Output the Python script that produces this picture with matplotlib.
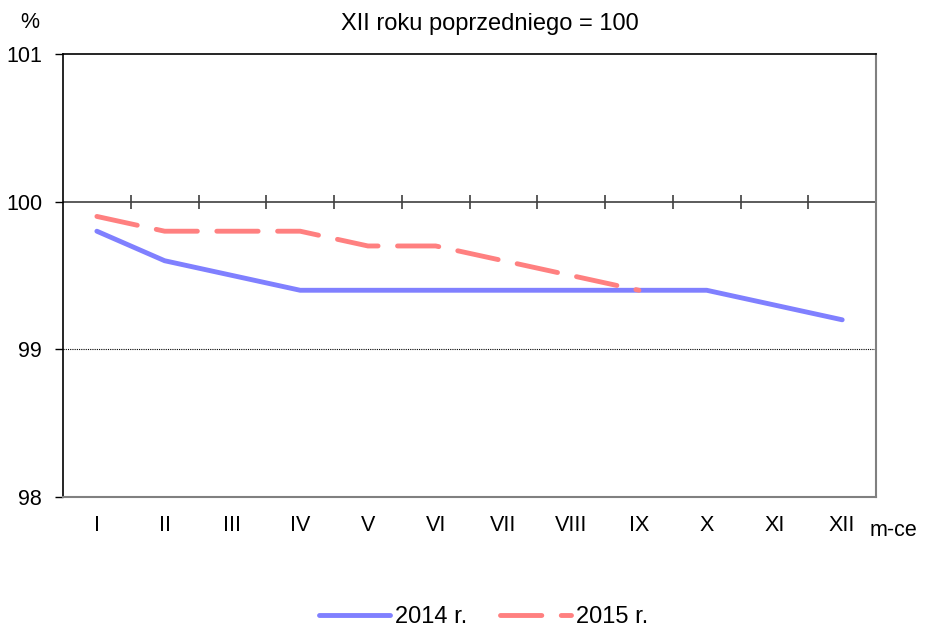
import numpy as np
import matplotlib.pyplot as plt

plt.rcParams['font.family'] = ['Liberation Sans', 'DejaVu Sans']

# ================= dane =================
months = ['I', 'II', 'III', 'IV', 'V', 'VI', 'VII', 'VIII', 'IX', 'X', 'XI', 'XII']
y2014 = [99.8, 99.6, 99.5, 99.4, 99.4, 99.4, 99.4, 99.4, 99.4, 99.4, 99.3, 99.2]
y2015 = [99.9, 99.8, 99.8, 99.8, 99.7, 99.7, 99.6, 99.5, 99.4]
labels = ['2014 r.', '2015 r.']

FS = 15.5   # etykiety osi
FS_BIG = 17  # tytuł, legenda

# ================= wykres =================
fig = plt.figure(figsize=(9.32, 6.28), dpi=100)
ax = fig.add_axes([0.0676, 0.2086, 0.8724, 0.7054])

x = np.arange(len(months))
ax.plot(x, y2014, color='#8080FF', lw=3.5, solid_capstyle='round',
        solid_joinstyle='round', label=labels[0])
ax.plot(x[:len(y2015)], y2015, color='#FF8080', lw=3.5, dashes=(8.5, 4),
        dash_capstyle='round', label=labels[1])

ax.set_xlim(-0.5, 11.5)
ax.set_ylim(98, 101)
ax.set_yticks([98, 99, 100, 101])
ax.set_yticklabels(['98', '99', '100', '101'], fontsize=FS)
ax.tick_params(axis='y', length=6, width=1, pad=9)

ax.set_xticks(x)
ax.set_xticklabels(months, fontsize=FS)
ax.tick_params(axis='x', length=0, pad=13)

# linie pomocnicze
ax.axhline(99, color='black', lw=0.8, ls=(0, (1, 1)), zorder=1)
ax.axhline(100, color='#404040', lw=1.2, zorder=1)

# znaczniki na linii 100
sec = ax.secondary_xaxis(2 / 3)
sec.set_xticks(np.arange(0.5, 11.5, 1))
sec.tick_params(axis='x', direction='inout', length=10, width=1.2,
                color='#404040', labelbottom=False, labeltop=False,
                top=True, bottom=False)
sec.spines['top'].set_visible(False)
sec.spines['bottom'].set_visible(False)

for s in ['left', 'top']:
    ax.spines[s].set_color('black')
    ax.spines[s].set_linewidth(1.2)
for s in ['right', 'bottom']:
    ax.spines[s].set_color('#808080')
    ax.spines[s].set_linewidth(1.5)

fig.text(30 / 932, 1 - 22 / 628, '%', fontsize=FS, ha='center', va='center')
fig.text(490 / 932, 1 - 24 / 628, 'XII roku poprzedniego = 100', fontsize=FS_BIG,
         ha='center', va='center')
fig.text(893 / 932, 1 - 530 / 628, 'm-ce', fontsize=FS, ha='center', va='center')

fig.legend(loc='center', bbox_to_anchor=(0.519, 1 - 617 / 628), ncol=2,
           frameon=False, fontsize=FS_BIG, handlelength=3.0, columnspacing=1.4,
           handletextpad=0.2)

fig.savefig('out.png', dpi=100)
